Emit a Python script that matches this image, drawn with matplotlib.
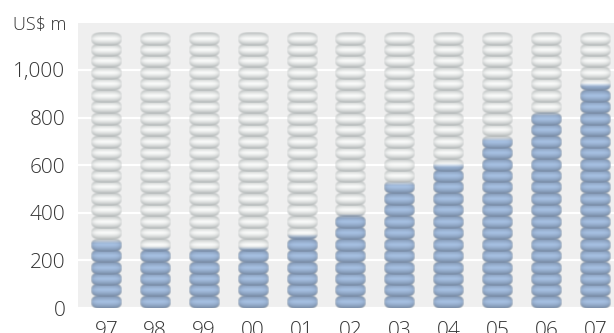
import numpy as np
import matplotlib
matplotlib.use("Agg")
import matplotlib.pyplot as plt

years = ["97", "98", "99", "00", "01", "02", "03", "04", "05", "06", "07"]
values = [280, 250, 245, 250, 300, 385, 520, 600, 710, 815, 935]
y_ticks = [0, 200, 400, 600, 800, 1000]
y_labels = ["0", "200", "400", "600", "800", "1,000"]
n_discs = 24
disc_step = 48.1


def disc_sprite(center_col, edge_col, w=60, h=28):
    # one squashed ring: light in the middle, darker towards the rim
    center_col = np.array(center_col) / 255
    edge_col = np.array(edge_col) / 255
    u = np.linspace(-1, 1, w)
    v = np.linspace(-1, 1, h)
    xx, yy = np.meshgrid(u, v)
    shade = np.clip(np.abs(yy + 0.05) ** 1.3 + 0.5 * np.abs(xx) ** 5, 0, 1)
    rgb = center_col + (edge_col - center_col) * shade[..., None]
    # superellipse outline
    r = np.abs(xx) ** 4 + np.abs(yy) ** 2.6
    alpha = np.clip((1.15 - r) / 0.45, 0, 1)
    return np.dstack([rgb, alpha])


grey_disc = disc_sprite((250, 251, 250), (178, 183, 183))
blue_disc = disc_sprite((166, 192, 226), (118, 137, 163))

fig = plt.figure(figsize=(6.14, 3.33), dpi=100)
ax = fig.add_axes([78 / 614, 25 / 333, 536 / 614, 285 / 333])
ax.set_facecolor("#efefef")

half = 0.315
for i, val in enumerate(values):
    for k in range(n_discs):
        lo, hi = k * disc_step - 4, (k + 1) * disc_step + 4
        ext = [i - half, i + half, lo, hi]
        ax.imshow(grey_disc, extent=ext, aspect="auto", interpolation="bilinear", zorder=2)
        if lo < val:
            # soft edge where the blue fill stops
            rows = np.linspace(hi, lo, blue_disc.shape[0])
            fade = np.clip((val - rows) / 16 + 0.5, 0, 1)
            sprite = blue_disc.copy()
            sprite[..., 3] = sprite[..., 3] * fade[:, None]
            ax.imshow(sprite, extent=ext, aspect="auto", interpolation="bilinear", zorder=3)

ax.set_xlim(-0.578, 10.38)
ax.set_ylim(0, 1197)
ax.set_yticks(y_ticks)
ax.set_yticklabels(y_labels)
ax.set_xticks(range(len(years)))
ax.set_xticklabels(years)
ax.grid(axis="y", color="white", linewidth=1.6, zorder=1)
ax.set_axisbelow(True)
for s in ax.spines.values():
    s.set_visible(False)
ax.tick_params(axis="both", length=0, labelsize=15, labelcolor="#333333", labelfontfamily="Open Sans")
ax.tick_params(axis="y", pad=9)
ax.tick_params(axis="x", pad=9)
for t in ax.get_xticklabels() + ax.get_yticklabels():
    t.set_fontweight("light")

fig.text(66 / 614, 1 - 25 / 333, "US$ m", ha="right", va="center", fontsize=13,
         color="#333333", family="Open Sans", fontweight="light")

fig.savefig("out.png", dpi=100)
